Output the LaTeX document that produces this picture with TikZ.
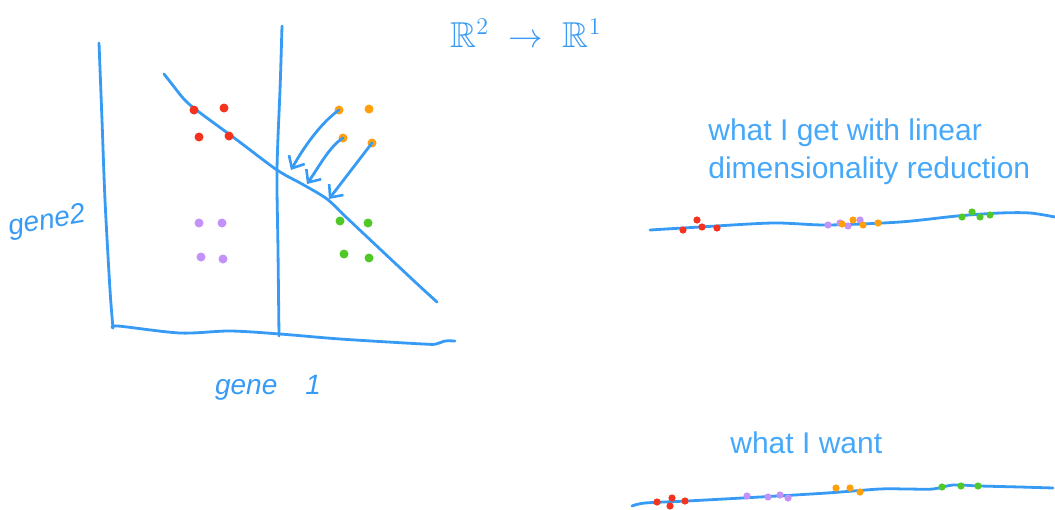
\documentclass[tikz,border=0pt]{standalone}
\usepackage{amsmath,amssymb}
\usepackage{fontspec}
\setmainfont{Liberation Sans}
\usetikzlibrary{arrows.meta}
\definecolor{penblue}{RGB}{55,155,245}
\definecolor{textblue}{RGB}{70,168,250}
\definecolor{dotred}{RGB}{245,50,30}
\definecolor{dotorange}{RGB}{255,160,10}
\definecolor{dotpurple}{RGB}{195,145,250}
\definecolor{dotgreen}{RGB}{80,200,40}

\begin{document}
\begin{tikzpicture}[x=0.5pt, y=-0.5pt, line join=round, line cap=round,
	pen/.style={draw=penblue, line width=1.4pt},
	dot/.style={circle, fill=#1, inner sep=0pt, minimum size=4.5pt},
	small dot/.style={circle, fill=#1, inner sep=0pt, minimum size=3.6pt},
	note/.style={text=textblue, inner sep=0pt, align=left, font=\fontsize{15}{19}\selectfont},
	hand/.style={text=penblue, inner sep=0pt, font=\itshape\fontsize{14}{16}\selectfont},
	barb/.style={-{Straight Barb[length=5pt, width=9pt, line width=1.3pt]}}]
	\useasboundingbox (0,0) rectangle (1055,509);
	% Achsen
	\draw[pen] plot[smooth] coordinates {(99,43) (102,120) (105,200) (110,290) (113,328)};
	\draw[pen] plot[smooth] coordinates {(113,328) (118,326) (180,333) (230,331) (280,334) (340,339) (423,344) (436,344) (445,341) (455,341)};
	\draw[pen] plot[smooth] coordinates {(282,26) (281,60) (280,90) (277,170) (278,250) (279,336)};
	\node[hand, rotate=10] (g2) at (47,222) {gene2};
	\node[hand] (g1) at (268,388) {gene\quad 1};
	% Gerade
	\draw[pen] plot[smooth] coordinates {(164,74) (175,88) (183,98) (195,109) (237,140) (277,170) (302,184) (327,199) (347,218) (413,280) (437,302)};
	% Punkte
	\foreach \x/\y [count=\i] in {194/110, 224/108, 199/137, 229/136}
		\node[dot=dotred] (r\i) at (\x,\y) {};
	\foreach \x/\y [count=\i] in {339/110, 369/109, 343/138, 372/143}
		\node[dot=dotorange] (o\i) at (\x,\y) {};
	\foreach \x/\y [count=\i] in {199/223, 222/223, 201/257, 223/259}
		\node[dot=dotpurple] (p\i) at (\x,\y) {};
	\foreach \x/\y [count=\i] in {340/221, 368/223, 344/254, 369/258}
		\node[dot=dotgreen] (g\i) at (\x,\y) {};
	% Projektionen
	\coordinate (t1) at (291,170);
	\coordinate (t2) at (307,184);
	\coordinate (t3) at (329,199);
	\draw[pen, barb] (o1.center) .. controls (322,122) and (305,145) .. (t1);
	\draw[pen, barb] (o3.center) .. controls (330,146) and (320,165) .. (t2);
	\draw[pen, barb] (o4.center) -- (t3);
	\node[text=penblue, font=\fontsize{18}{20}\selectfont] (map) at (526,33) {$\mathbb{R}^2\ \to\ \mathbb{R}^1$};
	% linear
	\node[note, anchor=north west] (lin) at (708,118) {what I get with linear\\dimensionality reduction};
	\draw[pen] plot[smooth] coordinates {(650,230) (700,227) (773,223) (827,225) (900,222) (957,216) (1000,213) (1030,213) (1055,217)};
	\foreach \x/\y [count=\i] in {683/230, 697/220, 702/227, 717/228}
		\node[small dot=dotred] (lr\i) at (\x,\y) {};
	\foreach \x/\y [count=\i] in {828/225, 840/223, 848/226, 860/220}
		\node[small dot=dotpurple] (lp\i) at (\x,\y) {};
	\foreach \x/\y [count=\i] in {842/224, 853/220, 863/225, 878/223}
		\node[small dot=dotorange] (lo\i) at (\x,\y) {};
	\foreach \x/\y [count=\i] in {962/217, 972/212, 980/217, 990/215}
		\node[small dot=dotgreen] (lg\i) at (\x,\y) {};
	% gewuenscht
	\node[note, anchor=base west] (want) at (730,453) {what I want};
	\draw[pen] plot[smooth] coordinates {(632,506) (645,503) (687,501) (760,497) (827,493) (880,489) (907,489) (933,489) (953,485) (980,486) (1020,487) (1053,488)};
	\foreach \x/\y [count=\i] in {657/502, 672/498, 685/501, 670/506}
		\node[small dot=dotred] (wr\i) at (\x,\y) {};
	\foreach \x/\y [count=\i] in {747/496, 768/497, 780/495, 788/498}
		\node[small dot=dotpurple] (wp\i) at (\x,\y) {};
	\foreach \x/\y [count=\i] in {836/488, 850/488, 860/492}
		\node[small dot=dotorange] (wo\i) at (\x,\y) {};
	\foreach \x/\y [count=\i] in {942/487, 961/486, 978/486}
		\node[small dot=dotgreen] (wg\i) at (\x,\y) {};
\end{tikzpicture}
\end{document}
